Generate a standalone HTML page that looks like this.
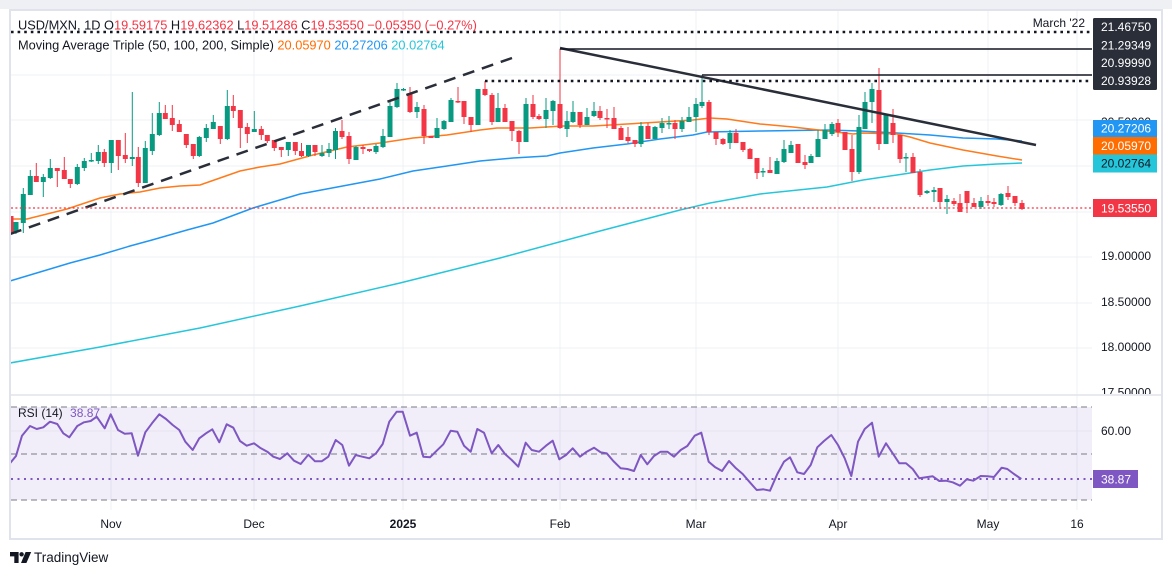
<!DOCTYPE html>
<html><head><meta charset="utf-8"><style>
html,body{margin:0;padding:0;background:#fff;}
svg{display:block;}
text{font-family:"Liberation Sans",sans-serif;}
</style></head><body>
<svg width="1172" height="576" viewBox="0 0 1172 576" xmlns="http://www.w3.org/2000/svg">
<defs>
<clipPath id="cp"><rect x="11" y="11" width="1081" height="384"/></clipPath>
<clipPath id="cax"><rect x="1093" y="11" width="70" height="383"/></clipPath>
<clipPath id="crsi"><rect x="11" y="396" width="1081" height="114"/></clipPath>
</defs>
<rect x="0" y="0" width="1172" height="9" fill="#eef0f4"/>
<rect x="10" y="10" width="1152" height="529" fill="#fff" stroke="#e0e3eb" stroke-width="2"/>

<!-- grid -->
<g stroke="#eef0f4" stroke-width="1">
<path d="M11 75H1092M11 120H1092M11 166H1092M11 212H1092M11 257H1092M11 303H1092M11 348H1092M11 431H1092"/>
<path d="M111 11V510M254 11V510M403 11V510M560 11V510M696 11V510M838 11V510M988 11V510M1077 11V510"/>
</g>
<line x1="10" y1="395" x2="1162" y2="395" stroke="#e0e3eb" stroke-width="1.5"/>

<g clip-path="url(#cp)">
<!-- MAs -->
<polyline fill="none" stroke="#26c6da" stroke-width="1.5" points="10,363 100,347 200,328 300,306 400,283 500,258 600,231 680,210 710,203 760,194 827,187 863,180 897,175 930,170 963,166 997,164 1022,163"/>
<polyline fill="none" stroke="#2196f3" stroke-width="1.5" points="10,281 40,272 70,263 100,255 130,246 152,240 187,230 213,223 253,208 300,194 380,179 413,171 447,166 480,161 513,158 547,156 560,153 593,148 627,144 660,139 693,135 707,132 760,131 827,130 860,131 897,133 930,135 963,138 997,139 1022,141"/>
<polyline fill="none" stroke="#ff7a1a" stroke-width="1.5" points="11,219 27,219 67,209 100,198 120,194 140,192 160,188 180,186 200,185 220,178 240,171 260,167 280,164 313,155 347,147 380,143 413,138 447,135 480,130 497,128 530,128 563,126 593,126 627,124 660,122 693,120 710,118 727,119 760,124 793,127 827,131 853,134 863,133 897,134 910,137 930,143 963,150 997,156 1022,160"/>

<!-- candles -->
<path fill="none" stroke="#089981" stroke-width="1" d="M16 222V234 M23.3 188V233 M30.3 170V195 M43.3 174V197 M50.3 159V179 M77.3 164V185 M84.3 158V171 M91.3 153V162 M98.3 145V164 M111.3 140V173 M132.3 92V166 M145.3 141V183 M152.3 113V155 M159.3 102V136 M199.3 136V157 M206.3 124V142 M213.3 115V129 M227.3 90V140 M254.3 111V132 M288.3 142V156 M308.5 145V157 M322 145V157 M329 143V157 M335.5 128V159 M356 146V160 M376 144V154 M383 129V148 M390 101V137 M397 83V108 M403.5 88V91 M417 102V118 M437 118V138 M444 120V130 M451 98V122 M478 89V125 M498 93V122 M526 98V142 M546 98V128 M553 100V125 M567 111V137 M573 101V123 M587 108V125 M594 102V117 M641 122V147 M655 126V139 M662 118V133 M669 116V129 M682 117V132 M689 107V122 M696 98V132 M702 75V108 M730 130V149 M763 168V177 M777 158V174 M784 140V163 M791 141V153 M811 154V163 M818 130V157 M825 124V139 M832 122V136 M859 115V174 M865 92V129 M872 83V123 M886 114V144 M906 153V172 M927 190V194 M934 187V202 M947 195V214 M981 197V209 M1001 193V206"/>
<path fill="none" stroke="#089981" stroke-width="5" d="M16 222V232 M23.3 194V223 M30.3 176V195 M43.3 177V182 M50.3 168V178 M77.3 167V184 M84.3 161V168 M91.3 160V161.5 M98.3 152V161 M111.3 140V163 M132.3 157V159 M145.3 148V183 M152.3 134V151 M159.3 113V135 M199.3 137V156 M206.3 128V138 M213.3 122V129 M227.3 106V139 M254.3 129V132 M288.3 142V150 M308.5 145V156 M322 153V156 M329 149V153 M335.5 131V150 M356 147V160 M376 146V152 M383 136V147 M390 106V137 M397 89V107 M403.5 89V90.5 M417 107V112 M437 128V138 M444 121V129 M451 100V122 M478 89V125 M498 108V122 M526 104V142 M546 110V119 M553 101V111 M567 121V129 M573 112V122 M587 117V125 M594 111V116 M641 126V144 M655 127V139 M662 123V128 M669 123V124.5 M682 121V129 M689 117V122 M696 104V117 M702 102V106 M730 133V143 M763 171V172.5 M777 161V174 M784 149V162 M791 145V153 M811 156V163 M818 139V157 M825 130V139 M832 124V134 M859 127V172 M865 102V129 M872 89V102 M886 114V144 M906 157V158.5 M927 191V193 M934 190V192 M947 199V202 M981 201V207 M1001 194V205"/>
<path fill="none" stroke="#f23645" stroke-width="1" d="M11 216V234 M36.3 163V182 M57.3 168V187 M64.3 157V179 M70.3 179V188 M104.3 149V167 M118.3 140V170 M125.3 133V163 M138.3 147V187 M165.3 105V119 M172.3 105V131 M179.3 120V132 M186.3 134V148 M193.3 144V159 M220.3 126V144 M233.3 95V118 M240.3 110V148 M247.3 123V143 M261.3 126V140 M267.3 135V143 M274.3 140V151 M281.3 147V157 M295.3 142V155 M301.5 143V157 M315 145V156 M342 120V139 M349 132V164 M363 145V154 M369.5 149V152 M410 87V113 M424 105V144 M431 136V138 M458 87V103 M464 101V124 M471 117V132 M485 81V96 M492 93V125 M505 104V122 M512 121V141 M519 130V154 M533 95V119 M539 114V120 M560 49V129 M580 112V128 M600 106V120 M607 109V128 M614 107V129 M621 126V140 M628 127V143 M635 140V147 M648 123V139 M675 120V139 M709 100V135 M716 132V145 M723 138V145 M736 129V143 M743 142V152 M750 148V159 M757 158V179 M770 157V173 M798 144V163 M805 155V169 M838 119V137 M845 132V150 M852 135V181 M879 68V150 M893 109V143 M900 135V163 M913 153V173 M920 169V197 M940 188V209 M954 198V206 M960 194V212 M967 191V213 M974 198V207 M988 195V206 M994 198V207 M1008 186V200 M1015 196V206 M1022 200V210"/>
<path fill="none" stroke="#f23645" stroke-width="5" d="M11 216V232 M36.3 176V182 M57.3 168V171 M64.3 170V179 M70.3 179V184 M104.3 152V163 M118.3 140V156 M125.3 155V159 M138.3 157V183 M165.3 113V119 M172.3 118V125 M179.3 124V132 M186.3 134V145 M193.3 144V156 M220.3 126V139 M233.3 106V111 M240.3 110V128 M247.3 127V134 M261.3 129V135 M267.3 135V141 M274.3 140V148 M281.3 147V150 M295.3 142V151 M301.5 151V156 M315 145V152 M342 131V137 M349 136V159 M363 147V149 M369.5 149V151 M410 93V112 M424 109V136 M431 136V138 M458 101V102.5 M464 101V117 M471 117V125 M485 89V95 M492 95V122 M505 108V122 M512 121V131 M519 131V142 M533 104V117 M539 116V119 M560 104V128 M580 112V125 M600 111V118 M607 118V119.5 M614 118V129 M621 128V140 M628 137V141 M635 140V144 M648 126V139 M675 123V129 M709 102V132 M716 132V139 M723 139V144 M736 133V143 M743 142V150 M750 149V159 M757 158V173 M770 170V173 M798 144V163 M805 162V165 M838 123V132 M845 132V150 M852 149V172 M879 90V144 M893 123V135 M900 135V159 M913 157V173 M920 172V195 M940 188V202 M954 201V204 M960 203V212 M967 191V203 M974 203V207 M988 201V203 M994 202V204 M1008 193V197 M1015 196V203 M1022 203V209"/>

<!-- drawings -->
<line x1="10" y1="234" x2="512" y2="58" stroke="#2a2e39" stroke-width="2.5" stroke-dasharray="12 8"/>
<line x1="560" y1="48" x2="1036" y2="145" stroke="#2a2e39" stroke-width="2.5"/>
<line x1="560" y1="49" x2="1092" y2="49" stroke="#131722" stroke-width="1.5"/>
<line x1="702" y1="75" x2="1092" y2="75" stroke="#131722" stroke-width="1.5"/>
<line x1="11" y1="32" x2="1092" y2="32" stroke="#131722" stroke-width="2.6" stroke-dasharray="2.6 4"/>
<line x1="485" y1="81" x2="1092" y2="81" stroke="#131722" stroke-width="2.6" stroke-dasharray="2.6 4"/>
<line x1="11" y1="208" x2="1092" y2="208" stroke="#f23645" stroke-width="1.3" stroke-dasharray="2 2.4"/>
</g>

<!-- legend -->
<text x="18" y="29.5" font-size="12.8" fill="#131722">USD/MXN, 1D O<tspan fill="#f23645">19.59175</tspan> H<tspan fill="#f23645">19.62362</tspan> L<tspan fill="#f23645">19.51286</tspan> C<tspan fill="#f23645">19.53550</tspan> <tspan fill="#f23645">−0.05350 (−0.27%)</tspan></text>
<text x="18" y="49.5" font-size="12.8" fill="#131722">Moving Average Triple (50, 100, 200, Simple) <tspan fill="#ff6d00">20.05970</tspan> <tspan fill="#2196f3">20.27206</tspan> <tspan fill="#26c6da">20.02764</tspan></text>
<text x="1085" y="27" font-size="12" fill="#131722" text-anchor="end">March '22</text>

<!-- price axis -->
<g font-size="12" fill="#131722">
<text x="1101" y="126">20.50000</text>
<text x="1101" y="260">19.00000</text>
<text x="1101" y="306">18.50000</text>
<text x="1101" y="351">18.00000</text>
<text x="1101" y="396.5" clip-path="url(#cax)">17.50000</text>
</g>
<rect x="1093" y="18" width="64" height="72" fill="#2a2e39" rx="1.5"/>
<g font-size="12" fill="#ffffff">
<text x="1101" y="31">21.46750</text>
<text x="1101" y="49.3">21.29349</text>
<text x="1101" y="67">20.99990</text>
<text x="1101" y="85">20.93928</text>
</g>
<rect x="1093" y="120" width="64" height="17" fill="#2196f3"/>
<text x="1101" y="132.5" font-size="12" fill="#fff">20.27206</text>
<rect x="1093" y="137" width="64" height="17.5" fill="#ff6d00"/>
<text x="1101" y="150" font-size="12" fill="#fff">20.05970</text>
<rect x="1093" y="154.5" width="64" height="18" fill="#26c6da"/>
<text x="1101" y="167.5" font-size="12" fill="#131722">20.02764</text>
<rect x="1093" y="199" width="64" height="18" fill="#f23645"/>
<text x="1101" y="212.5" font-size="12" fill="#fff">19.53550</text>

<!-- RSI pane -->
<rect x="11" y="407" width="1081" height="93" fill="#7e57c2" fill-opacity="0.1"/>
<line x1="11" y1="431" x2="1092" y2="431" stroke="#e6e3ef" stroke-width="1"/>
<g stroke="#787b86" stroke-width="1" stroke-dasharray="6 4">
<line x1="11" y1="407" x2="1092" y2="407"/>
<line x1="11" y1="454" x2="1092" y2="454"/>
<line x1="11" y1="500" x2="1092" y2="500"/>
</g>
<line x1="11" y1="479" x2="1092" y2="479" stroke="#7e57c2" stroke-width="2" stroke-dasharray="2 4.5"/>
<g clip-path="url(#crsi)">
<polyline fill="none" stroke="#7e57c2" stroke-width="2" stroke-linejoin="round" points="10,463.3 16,456 22,435.7 30,426 36.7,429 43.3,427.3 50,421.7 57.3,424 63.3,433.3 69.3,437.3 77.3,426 84,422.3 90.7,421 96.7,416.7 104.7,428.3 110.7,414.3 118,430 124.7,433.7 131.7,433.3 138,455.7 145.3,432.3 152,423.3 159.3,414.3 166,419 172.7,425 179.3,430 185.3,441.7 192.7,450 199.3,438.3 206,433.3 212.3,429.3 219.3,442.3 226.7,424.3 233.3,427.7 240,441 246.7,445.7 254,443.3 260,447.7 267.3,451.7 273.3,456.7 280,459 287.3,453.3 294,460.7 300.7,464 308.3,454.7 315,461.3 321.7,461.3 328.3,456.7 335.7,440 342.3,445 349,465.7 355.7,455 362.3,456.7 369.3,458.3 376,453.3 382.7,444 389.3,421.7 396.7,411.7 402.7,411.7 410,435.7 416.7,432.7 423.3,456.7 430,457.3 436.7,450.7 443.3,444.3 450.7,430.7 457.3,431.7 464,445.7 470.7,451.7 477.3,429 484,432.7 491.7,453.3 498.3,445 505,454 511.7,460 518.3,466.7 525.7,442.7 531.7,450 539,451.7 546,445.7 552.7,440.7 559.3,459.3 566,455 572.7,448.3 580,456.7 586.7,451.7 594,447.7 600.7,452.3 606.7,453.3 613.3,461 620.7,468.3 627.3,469 634,471 640.7,455 647.3,464.3 654,456 660.7,451.7 667.3,451.7 674,456.7 680.7,450 687.3,446 694.7,435.7 701.3,432.7 708.7,461.7 715.3,467.3 722,471 729,461 736,468.3 742.7,474 749.3,481.7 756.7,490 763.3,489.3 770,490.7 777.3,474 784,461.7 790,457.3 797.3,472.3 804,474 810.7,465 817.3,447.3 824,441 831.3,435 838,445 844.7,458.3 851.3,476 858,441.7 864.7,429 872,422.7 878.7,456.7 886,443.3 892.7,453.3 899.3,463.3 906,463.3 912.7,469 919.3,478.3 926,477.3 932.7,476.3 939.3,481 946,480.7 952.7,482.3 960,485.7 966.7,479.3 973.3,480.7 980.7,476 987.3,476.3 994,477 1001.7,467.7 1007.3,469 1014,474 1021.3,479"/>
</g>
<text x="18" y="417" font-size="12" fill="#131722">RSI (14) <tspan dx="4" fill="#7e57c2">38.87</tspan></text>
<text x="1101" y="435" font-size="12" fill="#131722">60.00</text>
<rect x="1093" y="470" width="45" height="18" fill="#7e57c2"/>
<text x="1101" y="483.5" font-size="12" fill="#fff">38.87</text>

<!-- time axis -->
<g font-size="12" fill="#131722" text-anchor="middle">
<text x="111" y="528">Nov</text>
<text x="254" y="528">Dec</text>
<text x="403" y="528" font-weight="bold">2025</text>
<text x="560" y="528">Feb</text>
<text x="696" y="528">Mar</text>
<text x="838" y="528">Apr</text>
<text x="988" y="528">May</text>
<text x="1077" y="528">16</text>
</g>

<!-- logo -->
<g fill="#131722">
<path d="M10 552h8.6v11h-4.3v-6.6h-4.3z"/>
<circle cx="21.6" cy="554.3" r="2.2"/>
<path d="M25.6 552h5.6l-4.8 11h-5.4z"/>
</g>
<text x="34" y="562" font-size="13.5" fill="#131722">TradingView</text>
</svg>
</body></html>
